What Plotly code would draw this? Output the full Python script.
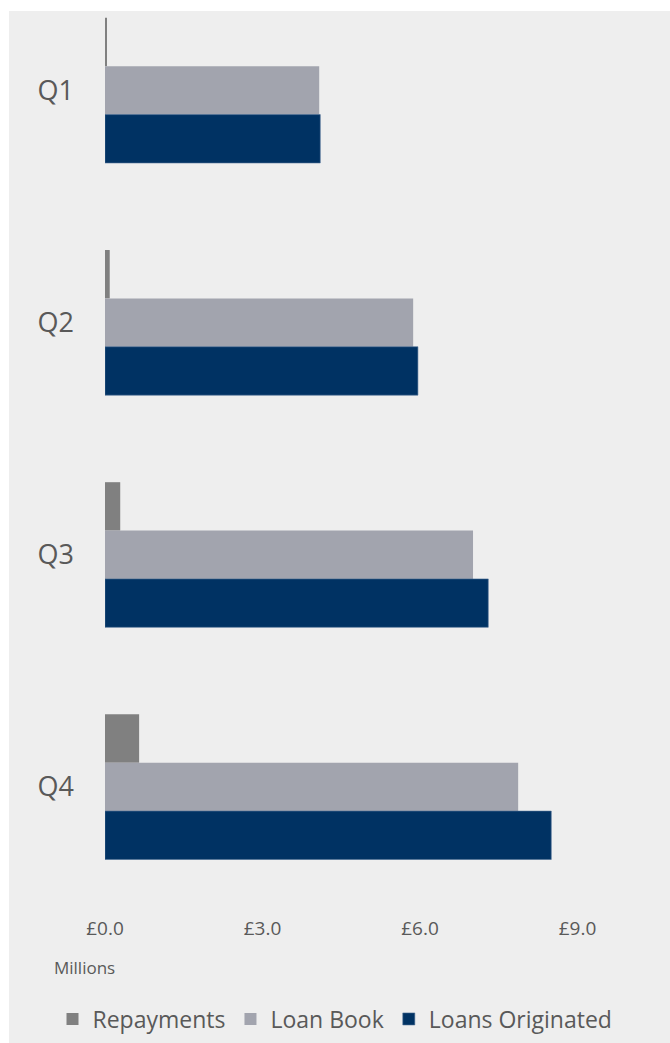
import plotly.graph_objects as go

quarters = ["Q1", "Q2", "Q3", "Q4"]
repayments = [0.02, 0.09, 0.29, 0.65]
loan_book = [4.08, 5.87, 7.01, 7.87]
loans_originated = [4.10, 5.96, 7.30, 8.50]
x_tick_vals = [0, 3, 6, 9]
x_tick_text = ["£0.0", "£3.0", "£6.0", "£9.0"]

W, H = 670, 1043
L, R, T, B = 105, 0, 11, 153
pw, ph = W - L - R, H - T - B

FONT = "Open Sans"
TXT = "#595959"
BG = "#eeeeee"

fig = go.Figure()
fig.add_trace(go.Bar(y=quarters, x=repayments, orientation="h", name="Repayments",
                     marker=dict(color="#808080", line=dict(width=0))))
fig.add_trace(go.Bar(y=quarters, x=loan_book, orientation="h", name="Loan Book",
                     marker=dict(color="#a2a4ae", line=dict(width=0))))
fig.add_trace(go.Bar(y=quarters, x=loans_originated, orientation="h", name="Loans Originated",
                     marker=dict(color="#003263", line=dict(width=0.6, color="#4a6b93"))))

px_per_unit = 52.5
fig.update_layout(
    width=W, height=H,
    margin=dict(l=L, r=R, t=T, b=B),
    paper_bgcolor="white",
    plot_bgcolor=BG,
    barmode="group",
    bargap=0.375,
    bargroupgap=0,
    font=dict(family=FONT, color=TXT),
    xaxis=dict(range=[0, pw / px_per_unit], tickvals=x_tick_vals, ticktext=x_tick_text,
               showgrid=False, zeroline=False, showline=False,
               tickfont=dict(size=19, color=TXT), ticklabelstandoff=25, fixedrange=True),
    yaxis=dict(range=[3.444, -0.342], showgrid=False, zeroline=False, showline=False,
               tickfont=dict(size=27, color=TXT), ticklabelstandoff=30, fixedrange=True),
    legend=dict(orientation="h", xref="container", yref="container",
                x=0.5, xanchor="center", y=1 - 1019 / H, yanchor="middle",
                font=dict(size=23, color=TXT), bgcolor="rgba(0,0,0,0)",
                traceorder="normal", itemwidth=30),
    shapes=[dict(type="rect", xref="paper", yref="paper", layer="below",
                 x0=(9 - L) / pw, x1=1.05,
                 y0=-(B + 5) / ph, y1=1.0,
                 fillcolor=BG, line=dict(width=0))],
    annotations=[dict(text="Millions", xref="paper", yref="paper",
                      x=(52 - L) / pw, xanchor="left",
                      y=(H - B - 967) / ph, yanchor="middle",
                      showarrow=False, font=dict(size=17, color=TXT))],
)

fig.write_html("out.html")
